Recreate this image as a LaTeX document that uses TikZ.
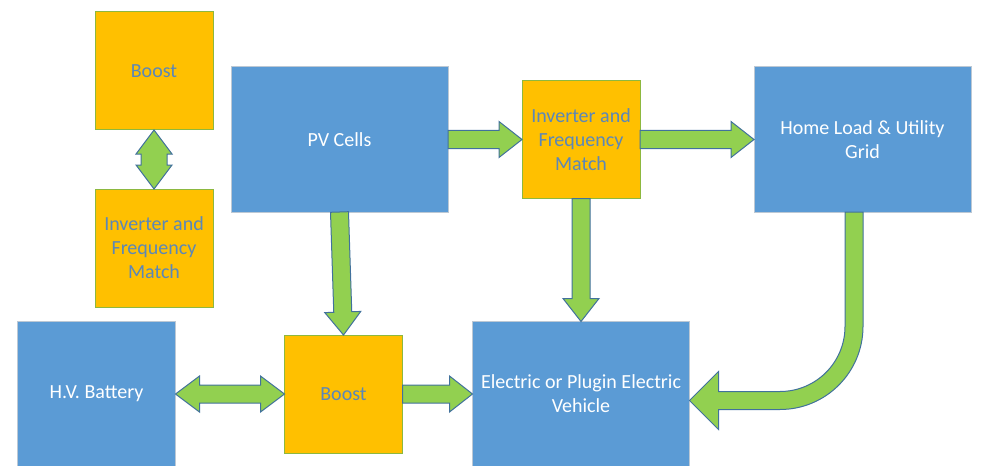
\documentclass[tikz,border=0pt]{standalone}
\usepackage{fontspec}
\setmainfont{Carlito}
\usepackage{xcolor}
\usepackage{tikz}
\usetikzlibrary{positioning, calc}

\definecolor{cellblue}{HTML}{5B9BD5}
\definecolor{celledge}{HTML}{BCC8D4}
\definecolor{convorange}{HTML}{FFC000}
\definecolor{convedge}{HTML}{8DB83F}
\definecolor{convtext}{HTML}{5B87B8}
\definecolor{flowgreen}{HTML}{92D050}
\definecolor{flowedge}{HTML}{41719C}

\newcommand{\arrowheadw}{13.5pt}
\newcommand{\arrowheadl}{17.25pt}

\newcommand{\blockarrow}[3][6.75pt]{%
  \coordinate (ba-s) at (#2);
  \coordinate (ba-e) at (#3);
  \coordinate (ba-h) at ($(ba-e)!\arrowheadl!(ba-s)$);
  \draw[flow] ($(ba-s)!#1!90:(ba-e)$) -- ($(ba-h)!#1!-90:(ba-s)$)
    -- ($(ba-h)!\arrowheadw!-90:(ba-s)$) -- (ba-e)
    -- ($(ba-h)!\arrowheadw!90:(ba-s)$) -- ($(ba-h)!#1!90:(ba-s)$)
    -- ($(ba-s)!#1!-90:(ba-e)$) -- cycle;}

\newcommand{\dblockarrow}[3][6.75pt]{%
  \coordinate (ba-s) at (#2);
  \coordinate (ba-e) at (#3);
  \coordinate (ba-h1) at ($(ba-s)!18pt!(ba-e)$);
  \coordinate (ba-h2) at ($(ba-e)!18pt!(ba-s)$);
  \draw[flow] (ba-s) -- ($(ba-h1)!\arrowheadw!90:(ba-e)$) -- ($(ba-h1)!#1!90:(ba-e)$)
    -- ($(ba-h2)!#1!-90:(ba-s)$) -- ($(ba-h2)!\arrowheadw!-90:(ba-s)$) -- (ba-e)
    -- ($(ba-h2)!\arrowheadw!90:(ba-s)$) -- ($(ba-h2)!#1!90:(ba-s)$)
    -- ($(ba-h1)!#1!-90:(ba-e)$) -- ($(ba-h1)!\arrowheadw!-90:(ba-e)$) -- cycle;}

\begin{document}
\begin{tikzpicture}[
    x=0.75pt, y=0.75pt,
    cellbox/.style = {draw=celledge, line width=0.75pt, fill=cellblue, text=white,
                      minimum width=162.75pt, minimum height=108.75pt,
                      inner sep=2pt, outer sep=0pt, align=center,
                      font=\fontsize{15pt}{18pt}\selectfont},
    convbox/.style = {draw=convedge, line width=0.75pt, fill=convorange, text=convtext,
                      minimum width=88.5pt, minimum height=88.5pt,
                      inner sep=2pt, outer sep=0pt, align=center,
                      font=\fontsize{15pt}{18pt}\selectfont},
    flow/.style    = {draw=flowedge, fill=flowgreen, line width=0.75pt, line join=miter},
  ]
  \useasboundingbox (0,0) rectangle (981,465);
  \node[cellbox] (pv) at (339.5,325.5) {PV Cells};
  \node[convbox, right=55.5pt of pv] (inv) {Inverter and\\Frequency\\Match};
  \node[cellbox, right=85.5pt of inv] (grid) {Home Load \& Utility\\Grid};
  \node[cellbox, below=92.25pt of inv] (ev) {Electric or Plugin Electric\\Vehicle};
  \node[convbox, left=52.5pt of ev] (boost) {Boost};
  \node[cellbox, left=81.75pt of boost, minimum width=118.5pt] (batt) {H.V. Battery};
  \node[convbox] (boost2) at (154,394) {Boost};
  \node[convbox, below=44.25pt of boost2] (inv2) {Inverter and\\Frequency\\Match};
  \blockarrow{pv.east}{inv.west}
  \blockarrow{inv.east}{grid.west}
  \blockarrow{pv.south}{boost.north}
  \blockarrow{inv.south}{ev.north}
  \blockarrow{boost.east}{ev.west}
  \dblockarrow{batt.east}{boost.west}
  \dblockarrow[9.75pt]{boost2.south}{inv2.north}
  \coordinate (gs) at ($(grid.south)+(-8.5,0)$);
  \coordinate (gt) at ($(ev.east)+(0,-6.5)$);
  \draw[flow] ($(gs)+(-9,0)$) -- ($(gt -| gs)+(-9,74)$)
    arc[start angle=0, end angle=-90, radius=65] -- ($(gt)+(29,9)$)
    -- ($(gt)+(29,29)$) -- (gt) -- ($(gt)+(29,-29)$) -- ($(gt)+(29,-9)$)
    -- ($(gt -| gs)+(-74,-9)$) arc[start angle=-90, end angle=0, radius=83]
    -- ($(gs)+(9,0)$) -- cycle;
\end{tikzpicture}
\end{document}
